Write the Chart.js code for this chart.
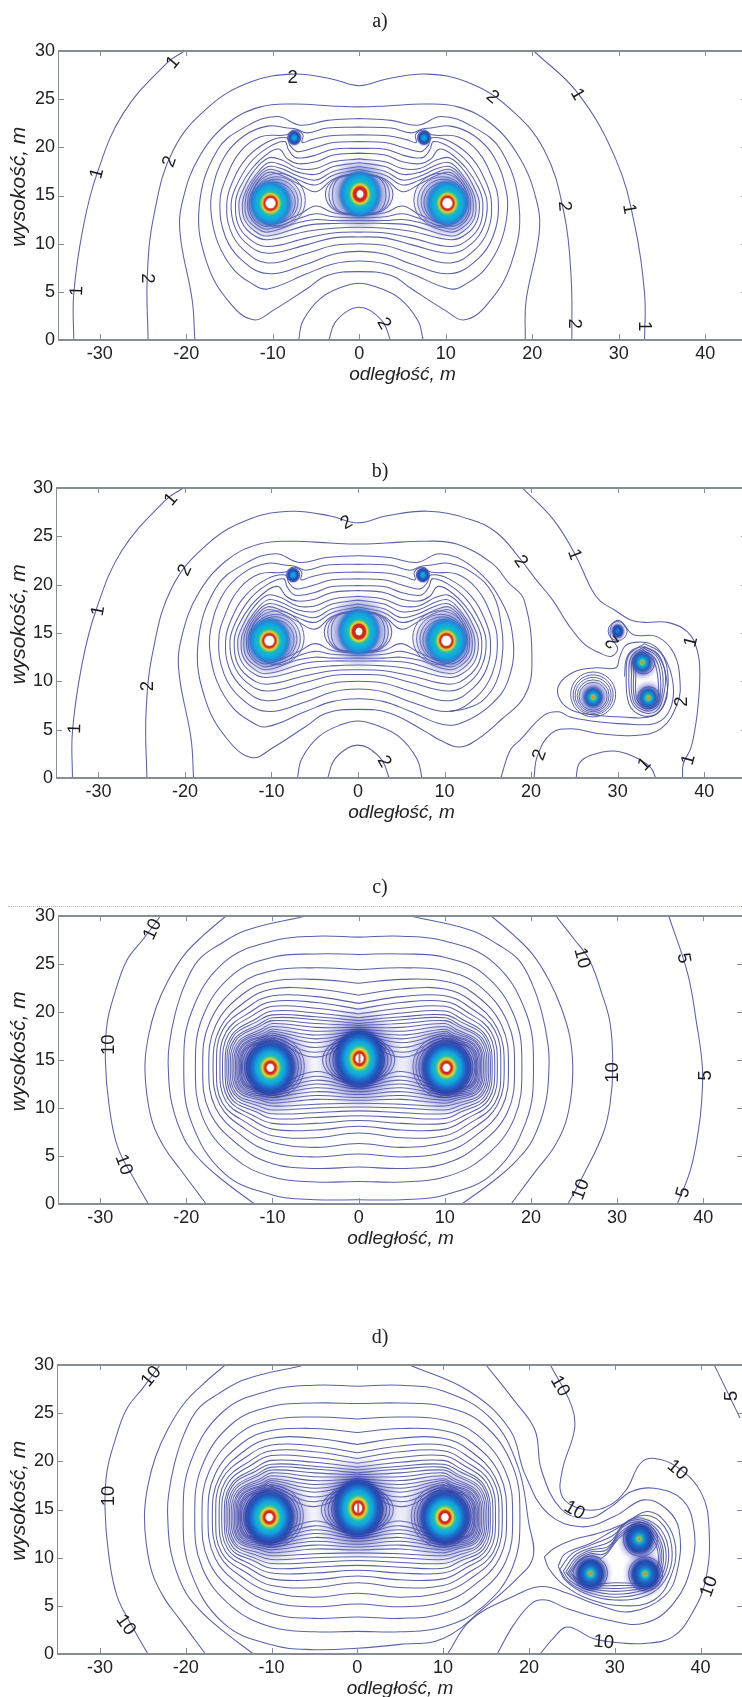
<!DOCTYPE html>
<html><head><meta charset="utf-8">
<script src="https://cdn.jsdelivr.net/npm/chart.js@4"></script>
<style>
html,body{margin:0;padding:0;background:#fff;width:742px;height:1697px;overflow:hidden;position:relative}
.w{position:absolute;left:0;width:775px}
canvas{display:block;filter:blur(.3px)}
#dots{position:absolute;left:8px;right:0;top:906px;border-top:1px dotted #9fc3dc}
</style></head><body>
<div class="w"><canvas id="a"></canvas></div><div class="w"><canvas id="b"></canvas></div><div id="dots"></div><div class="w"><canvas id="c"></canvas></div><div class="w"><canvas id="d"></canvas></div>
<script>
const xTicks=[-30,-20,-10,0,10,20,30,40];
const yTicks=[0,5,10,15,20,25,30];
const titles=['a)','b)','c)','d)'];
// ---------- contour lines: flat x,y lists ----------
const oneL=[-33,0,-33,4.8,-31.9,11.75,-30.3,17.3,-27.3,23.5,-22.3,28.7,-20.2,30];
const a1R=[20.2,30,25.3,25.6,29.7,18.7,31.9,11.75,33,4.8,33,0];
const a2=[-24.4,0,-24.5,6.6,-23.7,13.1,-21.5,19.7,-17.4,24.2,-12.5,26.8,-7.6,27.6,-3.2,27.1,0,26.4,3.2,27.1,7.8,27.6,12.4,26.8,17.2,24.2,21.4,19.7,23.7,13.1,24.5,6.6,24.6,0];
const a3=[-19,0,-19.3,4.1,-20.7,11,-20.4,14.5,-18.5,19,-15.2,22.5,-11.4,24.2,-7.6,24.5,-3.2,24.3,0,24.2,3.2,24.3,7.6,24.5,11.4,24.2,15.2,22.5,18.5,19,20.5,14.5,20.8,11,19.3,4.1,19.2,0];
const arcOut=[-7,0,-6.5,2,-4.5,4.3,-2,5.5,0,5.9,2,5.5,4.7,4.3,6.8,2,7.4,0];
const arcIn=[-3.5,0,-2.8,1.8,-1.2,3.1,0,3.4,1.2,3.1,2.8,1.8,3.6,0];
// half curves, top centre to bottom centre (the triple pattern is symmetric about x=0)
const halfB=[0,23,-3.7,22.8,-6.8,22.3,-9.5,23.2,-13,22.2,-16.4,19.7,-18.5,13.8,-17.6,8,-14.9,3.8,-12.2,2.1,-9.9,3.1,-6,5.35,-3.7,6.7,0,7.1];
const halfC=[0,22.1,-3.7,22,-6,21.5,-7.3,21.9,-8.3,22,-10.6,22.2,-13.3,21.2,-15.6,19,-17,15.5,-17.1,13,-16.3,10,-14.5,7.3,-12.5,5.9,-10.6,5.3,-6,6.9,-3,7.9,0,8.2];
const nestedA=[
[0,21.3,-3.3,21.2,-5.5,20.8,-6.6,20.5,-6.5,21.3,-7.5,21.8,-8.4,21.3,-11.4,21.1,-13.7,19.6,-15.4,16.8,-16.1,14.2,-15.5,10.8,-13.7,8.4,-10.6,6.9,-6,7.9,-3,8.9,0,9.2],
[0,20.6,-3,20.5,-5,20,-6.6,19.6,-7.3,19.6,-8,20.2,-8.4,21,-10.5,20.6,-13,18.9,-14.7,16.3,-15.3,14.2,-14.9,11.4,-13.3,9.3,-10.6,8,-6,9,-3,9.8,0,10],
[0,19.9,-3,19.8,-5,19.2,-6.6,18.9,-7.5,19,-8.2,19.8,-8.6,20.6,-10.5,20,-12.6,18.4,-14.2,16,-14.8,14.2,-14.4,11.8,-13,10,-10.6,9,-6,9.9,-3,10.6,0,10.7],
[0,19.4,-3,19.2,-5,18.5,-7,18.3,-8.3,18.8,-9.2,19.8,-10.5,19.4,-12.4,17.8,-13.8,15.8,-14.3,14.2,-14,12,-12.7,10.5,-10.6,9.7,-6,10.6,-3,11.1,0,11.2],
[0,18.8,-3,18.5,-5,17.8,-7,17.8,-9,18.7,-10.5,18.9,-12.2,17.5,-13.4,15.6,-13.9,14.2,-13.6,12.3,-12.4,11,-10.6,10.4,-6,11.3,-3,11.6,0,11.7],
[0,18.4,-3,18,-5,17.2,-7,17.4,-9,18.2,-10.5,18.4,-12,17.1,-13.1,15.5,-13.5,14.2,-13.3,12.6,-12.2,11.4,-10.6,10.8,-6,11.9,-3,12.1,0,12.1],
[0,18,-3,17.5,-5,16.6,-7,17,-9,17.8,-10.5,18,-11.9,16.9,-12.9,15.4,-13.2,14.2,-13,12.7,-12,11.7,-10.6,11.2,-7,12.2,-5,12.5,-3,12.4,0,12.4],
[0,17.7,-3,17.1,-5,16.1,-7,16.6,-9,17.4,-10.5,17.7,-11.8,16.7,-12.7,15.3,-12.9,14.2,-12.7,12.9,-11.9,12,-10.6,11.5,-7,12.6,-5,13.1,-3,12.8,0,12.7],
[0,17.4,-3,16.7,-5,15.4,-7,16.2,-9,17.1,-10.5,17.4,-11.7,16.5,-12.5,15.2,-12.7,14.2,-12.5,13,-11.8,12.2,-10.6,11.8,-7,13,-5,13.9,-3,13.2,0,12.9]];
const midA=[[0,17.3,-2.7,16.8,-3.9,15.1,-2.7,13.4,0,13],[0,17.2,-2.5,16.8,-3.5,15.1,-2.5,13.4,0,13.1],[0,17.1,-2.3,16.8,-3.1,15.1,-2.3,13.4,0,13.2]];
const ringsA=[[-9.35,14.5,27],[-9.5,14.4,24.5],[-9.6,14.4,22],[-9.7,14.3,20],[9.45,14.5,27],[9.6,14.4,24.5],[9.7,14.4,22],[9.8,14.3,20],[-7.5,21,6.5],[7.5,21,6.5]];
// panel b
const b1R=[19,30,22.6,26.7,25.1,23.1,27,19.5,28,18.3,29.6,17.4,31.5,16.35,33.1,16.1,35.8,16.1,38.1,15.1,39.2,13.2,39.5,10.8,39.2,6.7,38.5,3.2,37.6,1.5,37.5,0];
const b1arc=[25.2,0,25.55,1.5,26.9,2.35,29.6,2.8,31.9,2.2,33.8,1.1,34.4,0];
const b2=[-24.4,0,-24.5,6.6,-23.7,13.1,-21.5,19.7,-17.4,24.2,-12.5,26.8,-7.6,27.6,-3.2,27.1,0,26.4,3.2,27.1,8.1,27.6,12.8,26.8,16,25.4,18.8,22.6,20.5,20.6,22.5,18.4,24.2,16,26.1,13.9,28,12.9,29.3,12.6,30,13.4,29.2,14.6,29.3,15.8,30.2,16.3,31,15.5,31.9,14.8,34.6,14.6,36.5,12.9,37.2,10.1,36.9,7.7,35,5.1,31.9,4.4,27.7,4.6,24.6,5.1,22.3,4.6,20.7,2.2,20.34,0];
const b3=[-19,0,-19.3,4.1,-20.7,11,-20.4,14.5,-18.5,19,-15.2,22.5,-11.4,24.2,-7.6,24.5,-3.2,24.3,0,24.2,3.2,24.3,7.6,24.5,11.4,24.2,15.5,22.2,17.4,20.2,19.2,18.4,20.1,11.9,19.2,8.4,16.5,6,13.8,4,11.7,3.2,9.5,3.9,7.8,4.8,3.7,6.7,0,7.1,-3.7,6.7,-6,5.35,-9.9,3.1,-12.2,2.1,-14.9,3.8,-17.6,8,-18.5,13.8,-16.4,19.7,-13,22.2,-9.5,23.2,-6.8,22.3,-3.7,22.8,0,23,3.7,22.8,6.8,22.3,9.5,23.2,13,22,16.5,18.4,17.95,14,17.3,10,15.5,7.7,12.5,5.9,10,5.5,6,6.9,3,7.9,0,8.2,-3,7.9,-6,6.9,-10.6,5.3,-12.5,5.9,-14.5,7.3,-16.3,10,-17.1,13,-17,15.5,-15.6,19,-13.3,21.2,-10.6,22.2,-8.3,22,-7.3,21.9,-6,21.5,-3.7,22,0,22.1,3.7,22,6,21.5,7.3,21.9,8.3,22,10.6,22.2,13.3,21.2,15.6,19,16.6,15.5,16.7,13,16,10,14.4,8,12.5,7.2,10.6,6.9];
const bS=[16.5,0,17.6,2.9,18.8,4,21.5,6.5,23.2,6.85,24.5,6.3,27,5.9,30.8,5.6,34.5,5.7,36.1,7.2,36.4,9.8,35.4,12.5,33.8,13.9,31.7,14,30.8,13.6,30.2,12.4,29.8,11.4,27.5,11.4,25,11,23.2,9.6,23.4,8,25,6.9,27.5,6.5,30.5,6.3,34,6.4,35.5,7.8,35.7,10,34.8,12.5,33.2,13.5,31.8,13.3,31,12.3,30.8,10.5];
const capsB=[
[33.1,13.9,31.3,12.7,31,10.8,31.3,7.7,32.7,6.5,34.6,6.7,35.6,8.4,35.8,10.8,35,12.9,33.1,13.9],
[33.1,13.6,31.6,12.6,31.3,10.8,31.6,7.9,32.9,6.8,34.5,6.95,35.3,8.5,35.5,10.8,34.7,12.8,33.1,13.6],
[33.1,13.4,31.8,12.5,31.6,10.8,31.8,8,33,7,34.4,7.2,35.1,8.5,35.2,10.8,34.5,12.6,33.1,13.4],
[33,13.2,32,12.4,31.85,10.8,32,8.1,33.1,7.2,34.3,7.4,34.9,8.5,34.9,10.8,34.3,12.4,33,13.2],
[33,13,32.1,12.3,32.1,10.7,32.2,8.2,33.2,7.4,34.2,7.5,34.7,8.5,34.6,10.7,34.1,12.2,33,13]];
const ringsB=[[27.17,8.64,22.5],[27.17,8.6,20],[27.17,8.55,18],[27.17,8.5,16],[27.17,8.45,14],[33,11.9,11],[33.6,8.3,11],[30,15.2,9.5]];
// panel c/d rows: ext,x3,x4, top y at 0,-5,-10,x3,x4, bottom y at x4,x3,-10,-5,0
const rowsC=[
[-20.3,-15.6,-19.4,27.8,27.9,27.4,25.2,20,8.5,3.2,.95,.45,.45],
[-18.95,-14.6,-18.1,26,26.05,25.7,23.9,19.5,9,4.9,2.8,2.3,2.35],
[-18.1,-13.9,-17.3,24.4,24.6,24.3,22.8,18.9,9.6,6.1,4.2,3.7,3.85],
[-17.4,-13.4,-16.6,23,23.4,23.2,21.9,18.6,10,7,5.4,4.9,5.2],
[-16.9,-13,-16.1,21.75,22.4,22.4,21.2,18.3,10.3,7.7,6.4,5.9,6.3],
[-16.5,-12.7,-15.8,20.9,21.6,21.7,20.6,18.1,10.5,8.3,7.1,6.9,7.4],
[-16.1,-12.4,-15.4,20.3,21,21.1,20.1,17.9,10.7,8.8,7.8,7.7,8.1],
[-15.8,-12.2,-15.1,19.8,20.4,20.6,19.7,17.7,10.9,9.2,8.4,8.4,8.7],
[-15.5,-11.9,-14.8,19.4,19.9,20.1,19.3,17.5,11,9.6,8.9,9,9.2],
[-15.3,-11.8,-14.6,19.1,19.5,19.7,19,17.4,11.2,9.9,9.4,9.5,9.7],
[-15.1,-11.6,-14.4,18.8,19.2,19.4,18.7,17.2,11.4,10.2,9.8,10,10.1],
[-14.9,-11.5,-14.2,18.6,18.8,19.1,18.5,17.1,11.5,10.5,10.2,10.4,10.5],
[-14.7,-11.3,-14,18.4,18.4,18.8,18.2,16.9,11.7,10.8,10.5,10.9,10.8],
[-14.5,-11.2,-13.8,18.2,18,18.5,18,16.8,11.8,11,10.8,11.3,11.1],
[-14.3,-11,-13.7,18,17.6,18.2,17.8,16.7,11.9,11.2,11.1,11.7,11.4],
[-14.15,-10.9,-13.5,17.9,17.2,18,17.6,16.6,12,11.4,11.3,12.1,11.7],
[-14,-10.8,-13.4,17.8,16.8,17.8,17.5,16.5,12.1,11.6,11.5,12.5,12],
[-13.85,-10.7,-13.2,17.7,16.3,17.6,17.3,16.4,12.2,11.8,11.7,12.9,12.2],
[-13.7,-10.5,-13.1,17.6,15.8,17.4,17.1,16.3,12.3,12,11.9,13.3,12.4],
[-13.6,-10.5,-13,17.5,15.3,17.2,16.9,16.2,12.4,12.2,12.1,13.8,12.6]];
const midC=[[0,17.4,-2.6,17,-4.2,15,-2.6,13,0,12.7],[0,17.3,-2.4,16.9,-3.8,15,-2.4,13.1,0,12.8],[0,17.2,-2.2,16.8,-3.4,15,-2.2,13.2,0,12.9],[0,17.1,-2,16.7,-3,15,-2,13.3,0,13]];
const ringsC=[[-9.9,14.3,31],[-9.95,14.3,28.5],[-10,14.3,26],[9.9,14.3,31],[9.95,14.3,28.5],[10,14.3,26]];
const c1L=[-23,30,-25,27.6,-26.9,25.4,-28.3,22,-29.2,18.8,-29.4,15,-29,10.5,-28,6,-26,2.5,-24.4,0];
const c1R=[22.9,30,25,27.6,26.8,25.4,28.2,22,29.2,18.8,29.5,14.3,29.2,10.5,28.4,7.4,26.2,3.2,24.3,0];
const c2L=[-15.4,30,-18,28,-20.2,26,-22.1,23.3,-23.5,20.5,-24.4,17.5,-24.8,14.6,-24.6,11.5,-23.9,8.4,-22.5,5.8,-20.7,3.6,-17.7,0];
const c2R=[15.4,30,18,28,20.2,26,22.1,23.3,23.5,20.5,24.5,17.5,24.85,14.6,24.7,11.5,24,8.4,22.6,5.8,20.7,3.6,17.7,0];
const c3L=[-6.1,30,-13.1,28.5,-16.2,27,-18.6,25.4,-20.2,22.8,-21.3,19.8,-22,16.5,-22.1,14.3,-21.7,10.5,-20.2,6.7,-18.3,4.5,-15.8,2.5,-12.1,0];
const c3R=[6,30,13.1,28.5,16.2,27,18.6,25.4,20.2,22.8,21.3,19.8,22,16.5,22.1,14.3,21.7,10.5,20.2,6.7,18.3,4.5,15.8,2.5,12,0];
const c5=[36,30,38.2,24,39.2,19,39.9,14.3,39.8,10.5,39.4,7.4,38.5,3.5,37,0];
// panel d
const d10R=[22.5,30,25,25.7,25.3,23.25,23.9,19.1,23.9,16.3,26.4,15,29.1,15.3,31.3,17,33,19.8,34.6,20.3,37.3,19.4,40.1,16.7,41,12.9,40.6,7.7,39,4.2,36.8,1.8,33.5,1.1,30.2,1.2,27.5,1.6,24.5,2.8,22.8,1.6,21.3,0];
const d5=[41.6,30,43.4,26.7,44.6,24.5];
const dS1=[15,30,18.2,26.4,20.7,23.25,21.45,19.1,23.8,15,26.9,14.1,29.6,15.3,31.9,16.85,34.6,17.2,37.9,16,39.2,13.2,39,9.4,36.9,5.3,33.4,3.2,28.8,3.6,24.5,4.7,22,5.6,20.4,5.3,18.2,3,16.3,0];
const dT3=c3L;
const dT3R=[6.1,30,13,27.3,17.8,23.25,19.5,18.75,22.2,14.6,26.1,13.2,30,14.3,33.4,16,36.1,15,37.5,12.9,37.3,8.7,35.8,6,31.9,4.4,28,5.1,24.5,6.3,21.45,7,18.2,6,13.2,3.5,10.5,0];
const dE1=[0,27.8,-5,27.9,-10,27.4,-15.6,25.2,-19.4,20,-20.3,14.3,-19.4,8.5,-15.6,3.2,-10,.95,-5,.45,0,.6,5,1,10,1.6,14.9,4.9,18.7,7.9,20.5,10.1,20,13.5,18.7,19.5,15.5,24.5,10,27.3,5,27.9,0,27.8];
const lobesD=[
[21.8,10.1,23,11,25.3,11.9,28,12.5,31,13.5,33.8,14.8,35.9,13.7,37.1,11.1,36.5,8,34.6,5.6,31,5,27,5.7,24,7.2,22.3,8.9,21.8,10.1],
[23.4,9.1,24.2,10.4,27.2,11.5,30,12.9,33.4,14.4,35.8,13.2,36.7,10.4,35.9,7.7,33.8,6.1,30,5.6,26.5,6.3,24.2,7.7,23.4,9.1],
[23.6,8.8,25,10.4,27.2,11.3,29.8,12.3,31.5,13.8,33.2,14.1,35.4,12.9,36.3,10.3,35.5,7.7,33.6,6.4,30,5.9,26.6,6.5,24.5,7.6,23.6,8.8],
[24,8.6,25.3,10.2,27.2,11,29.5,11.7,31.2,13.5,33.1,13.9,35.1,12.7,36,10.2,35.2,7.7,33.6,6.7,30,6.2,26.8,6.7,24.8,7.6,24,8.6],
[24.3,8.5,25.5,10,27.2,10.8,29.3,11.2,31,13.2,33,13.7,34.9,12.5,35.7,10.2,35,7.8,33.6,6.9,30,6.5,27,6.85,25.1,7.7,24.3,8.5],
[24.5,8.4,25.7,9.9,27.2,10.6,29,10.8,30.9,12.8,32.9,13.5,34.7,12.4,35.5,10.2,34.8,7.9,33.6,7.1,30,6.8,27.1,7,25.3,7.7,24.5,8.4],
[24.7,8.4,25.9,9.8,27.2,10.4,28.8,10.4,30.8,12.5,32.9,13.3,34.5,12.3,35.3,10.2,34.6,8,33.6,7.3,30,7.1,27.2,7.2,25.5,7.8,24.7,8.4],
[24.9,8.4,26,9.7,27.3,10.2,28.6,10,30.7,12.2,32.8,13.1,34.3,12.2,35.1,10.1,34.5,8,33.6,7.4,30,7.4,27.3,7.3,25.7,7.8,24.9,8.4]];
const ringsD=[[27.17,8.4,17],[33,11.9,17],[33.6,8.3,17]];
// contour labels: text, x, y, rotation in degrees
const labelsA=[['1',-21.5,28.8,-50],['1',-30.3,17.3,-75],['1',-32.6,5.1,-88],['1',25.2,25.5,60],['1',31.2,13.6,80],['1',33,1.45,90],['2',-7.7,27.2,0],['2',15.4,25.2,40],['2',23.7,13.9,85],['2',24.8,1.7,90],['2',2.85,1.7,60],['2',-21.9,18.5,-70],['2',-24.5,6.4,90]];
const labelsB=[['1',-21.6,28.8,-50],['1',-30,17.3,-80],['1',-32.7,5.1,-88],['1',25,23.1,70],['1',38.5,14.1,-75],['1',38.2,1.9,-75],['1',33.1,1.4,-45],['2',-1.3,26.4,-30],['2',18.8,22.4,55],['2',-20,21.5,-65],['2',-24.3,9.5,-90],['2',3,1.7,60],['2',21,2.4,-70],['2',29.4,14.1,-130],['2',37.4,7.9,-90]];
const labelsC=[['10',-23.9,28.6,-65],['10',-29,16.6,-90],['10',-27.3,4.1,70],['10',25.9,25.6,75],['10',29.5,13.7,-90],['10',25.8,1.5,-70],['5',37.7,25.6,80],['5',40.3,13.4,-90],['5',37.7,1.2,-75]];
const labelsD=[['10',-24,28.8,-50],['10',-29,16.4,-90],['10',-27,3,55],['10',23.6,27.8,60],['10',25.3,14.9,30],['10',37.3,19.1,40],['10',41,7,-70],['10',28.7,1.2,5],['5',43.6,26.8,-90]];
// conductor positions
const mainA=[[-10.25,14.2],[10.2,14.2]], centreA=[[.1,15.15]], smallA=[[-7.5,21],[7.5,21]];
const clusterD=[[27.17,8.35],[32.85,11.95],[33.55,8.3]], smallB=[[30,15.2]];
// ---------- helpers ----------
const LINE='rgba(72,80,160,.9)';
const pts=f=>{const o=[];for(let i=0;i<f.length;i+=2)o.push({x:f[i],y:f[i+1]});return o};
const mir=h=>{const o=h.slice();for(let i=h.length-4;i>=0;i-=2)o.push(-h[i],h[i+1]);return o};
const rowHalf=r=>{const[e,x3,x4,t0,t5,t10,t3,t4,b4,b3,b10,b5,b0]=r;return[0,t0,-5,t5,-10,t10,x3,t3,x4,t4,e,14.3,x4,b4,x3,b3,-10,b10,-5,b5,0,b0]};
const line=f=>({type:'scatter',showLine:true,data:pts(f),borderColor:LINE,borderWidth:1.05,pointRadius:0,tension:.4,order:5});
const rings=l=>({type:'scatter',showLine:false,data:l.map(r=>({x:r[0],y:r[1]})),pointRadius:l.map(r=>r[2]),pointBackgroundColor:'rgba(0,0,0,0)',pointBorderColor:LINE,pointBorderWidth:1,order:4});
function sprite(rad,stops,yr,bar){
 const k=document.createElement('canvas');const w=Math.ceil(rad*2+2),h=Math.ceil(rad*2*yr+2);k.width=w;k.height=h;
 const g=k.getContext('2d');g.translate(w/2,h/2);g.scale(1,yr);
 const gr=g.createRadialGradient(0,0,0,0,0,rad);stops.forEach(s=>gr.addColorStop(Math.min(1,s[0]/rad),s[1]));
 g.fillStyle=gr;g.beginPath();g.arc(0,0,rad,0,7);g.fill();
 if(bar){g.fillStyle='#c8301e';g.fillRect(-.8,-4,1.6,8)}
 return k}
const mk=(l,s)=>({type:'scatter',showLine:false,data:l.map(p=>({x:p[0],y:p[1]})),pointStyle:s,pointRadius:3,order:1});
const bandA=h=>[[0,'#fff'],[h,'#fff'],[h+.6,'#cc2a1e'],[6.6,'#cc2a1e'],[7.4,'#e89020'],[8.4,'#e8dc40'],[9.6,'#78c868'],[11,'#18bcc0'],[15.5,'#12a6e0'],[18,'#2188d8'],[20,'rgba(52,110,200,.85)'],[22,'rgba(90,110,195,.6)'],[27,'rgba(130,130,210,.36)'],[35,'rgba(170,170,225,0)']];
const bandC=h=>[[0,'#fff'],[h,'#fff'],[h+.6,'#cc2a1e'],[5.8,'#cc2a1e'],[6.8,'#e89020'],[8,'#e8dc40'],[9.4,'#78c868'],[11,'#18bcc0'],[14.5,'#12a6e0'],[17,'#1c7cd4'],[21,'#2250b4'],[24,'rgba(44,64,170,.9)'],[27,'rgba(70,80,180,.6)'],[34,'rgba(120,120,205,.38)'],[47,'rgba(170,170,225,0)']];
const clusterB=[[0,'#c87030'],[1.2,'#d8a030'],[2,'#70c868'],[3.4,'#18b4c8'],[5,'#1888d4'],[7.5,'#2060b8'],[9.5,'rgba(60,76,175,.75)'],[13,'rgba(110,110,200,.32)'],[17,'rgba(160,160,220,0)']];
const clusterC=[[0,'#c87030'],[1.3,'#d8a030'],[2.1,'#70c868'],[3.6,'#18b4c8'],[5.5,'#1888d4'],[8,'#2060c0'],[12,'#2248aa'],[14,'rgba(50,66,170,.8)'],[18,'rgba(110,110,200,.3)'],[23,'rgba(160,160,220,0)']];
const smallS=[[0,'#18a0dc'],[1.8,'#18a0dc'],[3,'#1478cc'],[4.8,'#1a44ae'],[5.8,'rgba(56,72,170,.8)'],[8,'rgba(140,140,215,0)']];
const smallS2=[[0,'#2a80d4'],[1.5,'#2070c8'],[4,'#1a44ae'],[5.5,'rgba(56,72,170,.85)'],[8,'rgba(140,140,215,0)']];
const sMain=sprite(35,bandA(4.6),1.08), sCentre=sprite(35,bandA(3.2),1.12);
const sMainC=sprite(47,bandC(3.4),1.1), sCentreC=sprite(47,bandC(3.8),1.18,true);
const sCl=sprite(17,clusterB,1.08), sClD=sprite(23,clusterC,1.08), sSm=sprite(8,smallS,1.1), sSmB=sprite(8,smallS2,1.15);
// ---------- panels ----------
const nestA=[...nestedA.map(h=>line(mir(h))),...midA.map(h=>line(mir(h))),rings(ringsA)];
const nestC=[...rowsC.slice(1).map(r=>line(mir(rowHalf(r)))),...midC.map(h=>line(mir(h))),rings(ringsC)];
const halosA=[mk(mainA,sMain),mk(centreA,sCentre),mk(smallA,sSm)];
const halosC=[mk(mainA,sMainC),mk(centreA,sCentreC)];
const panels=[
{id:'a',top:51,bottom:340,left:58,xMin:-34.82,xMax:44.84,pad:[9,17],labels:labelsA,ds:[...halosA,line(oneL),line(a1R),line(a2),line(a3),line(arcOut),line(arcIn),line(mir(halfB)),line(mir(halfC)),...nestA.map(d=>({...d}))]},
{id:'b',top:488,bottom:778,left:56,xMin:-34.9,xMax:44.95,pad:[22,4],labels:labelsB,ds:[...halosA,mk(clusterD,sCl),mk(smallB,sSmB),line(oneL),line(b1R),line(b1arc),line(b2),line(b3),line(arcOut),line(arcIn),...nestA.map(d=>({...d})),line(bS),...capsB.map(line),rings(ringsB)]},
{id:'c',top:916,bottom:1204,left:58,xMin:-34.9,xMax:44.62,pad:[10,16],labels:labelsC,ds:[...halosC,line(c1L),line(c1R),line(c2L),line(c2R),line(c3L),line(c3R),line(c5),line(mir(rowHalf(rowsC[0]))),...nestC.map(d=>({...d}))]},
{id:'d',top:1365,bottom:1654,left:57,xMin:-35,xMax:44.95,pad:[11,15],labels:labelsD,ds:[...halosC,mk(clusterD,sClD),line(c1L),line(d10R),line(d5),line(c2L),line(dS1),line(dT3),line(dT3R),line(dE1),...nestC.map(d=>({...d})),...lobesD.map(line),rings(ringsD)]}];
const AXIS='#868d93';
const frame={id:'frame',afterDatasetsDraw(ch,_,o){
 const c=ch.ctx,a=ch.chartArea,x=ch.scales.x,y=ch.scales.y;c.save();c.strokeStyle=AXIS;
 c.lineWidth=1;c.beginPath();
 x.ticks.forEach(t=>{const p=Math.round(x.getPixelForValue(t.value))+.5;c.moveTo(p,a.top);c.lineTo(p,a.top+5);c.moveTo(p,a.bottom);c.lineTo(p,a.bottom-6)});
 y.ticks.forEach(t=>{const p=Math.round(y.getPixelForValue(t.value))+.5;c.moveTo(a.left,p);c.lineTo(a.left+6,p);c.moveTo(a.right,p);c.lineTo(a.right-6,p)});
 c.moveTo(a.left+.5,a.top);c.lineTo(a.left+.5,a.bottom);c.stroke();
 c.lineWidth=2;c.beginPath();c.moveTo(a.left,a.top);c.lineTo(a.right,a.top);c.moveTo(a.left,a.bottom);c.lineTo(a.right,a.bottom);c.stroke();
 c.fillStyle='#1c1c1c';c.font='18.5px "Liberation Sans"';c.textAlign='center';c.textBaseline='middle';
 o.items.forEach(l=>{c.save();c.translate(x.getPixelForValue(l[1]),y.getPixelForValue(l[2]));c.rotate(l[3]*Math.PI/180);c.fillText(l[0],0,0);c.restore()});
 c.restore()}};
panels.forEach((p,i)=>{
 const el=document.getElementById(p.id),H=p.bottom-p.top+100;
 el.parentNode.style.top=(p.top-50)+'px';el.parentNode.style.height=H+'px';el.width=775;el.height=H;
 new Chart(el,{data:{datasets:p.ds},plugins:[frame],options:{responsive:false,maintainAspectRatio:false,animation:false,
  layout:{padding:{right:15,left:0,top:0,bottom:0}},
  plugins:{legend:{display:false},tooltip:{enabled:false},frame:{items:p.labels},
   title:{display:true,text:titles[i],color:'#222',font:{family:'Liberation Serif',size:20,weight:'normal'},padding:{top:p.pad[0],bottom:p.pad[1]}}},
  scales:{
   x:{type:'linear',min:p.xMin,max:p.xMax,grid:{display:false,drawTicks:false,tickLength:0},border:{display:false},
    afterBuildTicks:s=>{s.ticks=xTicks.map(v=>({value:v}))},afterFit:s=>{s.height=50;s.paddingLeft=0;s.paddingRight=0},
    ticks:{autoSkip:false,maxRotation:0,padding:3,color:'#222',font:{family:'Liberation Sans',size:18}},
    title:{display:true,text:'odległość, m',color:'#222',font:{family:'Liberation Sans',size:19,style:'italic',weight:'normal'},padding:{top:0,bottom:4}}},
   y:{type:'linear',min:0,max:30,grid:{display:false,drawTicks:false,tickLength:0},border:{display:false},
    afterBuildTicks:s=>{s.ticks=yTicks.map(v=>({value:v}))},afterFit:s=>{s.width=p.left},
    ticks:{autoSkip:false,padding:3,color:'#222',font:{family:'Liberation Sans',size:18}},
    title:{display:true,text:'   wysokość, m',color:'#222',font:{family:'Liberation Sans',size:21,style:'italic',weight:'normal'},padding:{top:7,bottom:0}}}
  }}});
});
</script></body></html>
